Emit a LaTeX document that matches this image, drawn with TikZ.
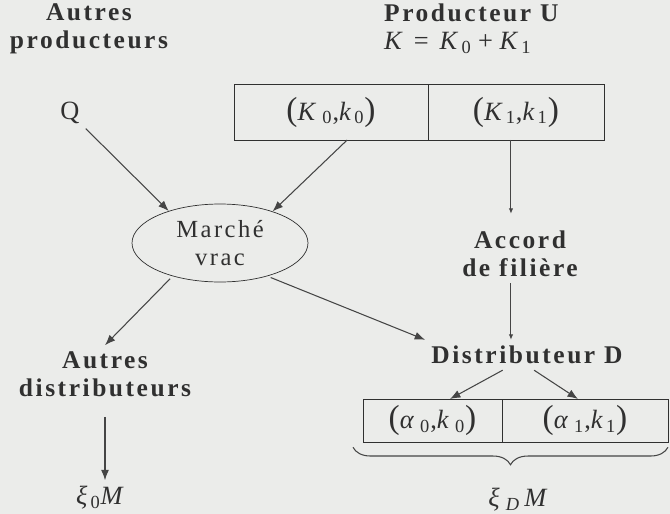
\documentclass[tikz,border=0pt]{standalone}
\usepackage{fontspec}
\setmainfont{Liberation Serif}
\newfontfamily\spacedfont[LetterSpace=10]{Liberation Serif}
\usetikzlibrary{shapes, arrows.meta, positioning, decorations.pathreplacing}
\definecolor{paper}{RGB}{235,236,234}
\definecolor{ink}{RGB}{48,48,48}
\newcommand{\bp}[1]{{\fontsize{19}{19}\selectfont #1}}
\newcommand{\vr}[2]{\textit{#1}\textsubscript{\,#2}}

\begin{document}
\begin{tikzpicture}[x=0.02cm, y=-0.02cm, >={Latex[length=2.1mm,width=1.6mm]},
    every node/.style={text=ink, font=\fontsize{15}{16}\selectfont},
    title/.style={font=\fontsize{14.5}{16}\selectfont\spacedfont\bfseries, align=center},
    cell/.style={draw=ink, rectangle, inner sep=0pt, outer sep=0pt, minimum height=1.12cm},
    lowcell/.style={draw=ink, rectangle, inner sep=0pt, outer sep=0pt, minimum height=0.86cm},
    market/.style={draw=ink, ellipse, inner sep=0pt, minimum width=3.52cm, minimum height=1.56cm, align=center},
    link/.style={draw=ink!90, line width=0.6pt},
    smallarrow/.style={link, -{Latex[length=1.1mm,width=0.9mm]}}]
    \fill[paper] (0,0) rectangle (670,514);
    \useasboundingbox (0,0) rectangle (670,514);
    % nodes
    \node[title] (autresP) at (89,29) {Autres\\producteurs};
    \node[title, align=left, anchor=west] (prodU) at (378,29) {Producteur U\\\normalfont\fontsize{15}{16}\selectfont \textit{K} \,=\, \vr{K}{0} + \vr{K}{1}};
    \node (q) at (70,113) {Q};
    \node[cell, minimum width=3.88cm] (k0cell) at (331,112) {\bp{(}\vr{K}{\,0},\vr{k}{0}\bp{)}};
    \node[cell, minimum width=3.52cm, right=0pt of k0cell] (k1cell) {\bp{(}\vr{K}{1},\vr{k}{1}\bp{)}};
    \node[market, font=\fontsize{14}{16}\selectfont] (marche) at (220,243) {\spacedfont Marché\\\spacedfont vrac};
    \node[title] (accord) at (520,254) {Accord\\de filière};
    \node[title] (distD) at (527,355) {Distributeur D};
    \node[title] (autresD) at (105,374) {Autres\\distributeurs};
    \node[lowcell, minimum width=2.78cm] (a0cell) at (432.5,420.5) {\bp{(}\vr{α}{\,0},\vr{k}{\,0}\bp{)}};
    \node[lowcell, minimum width=3.32cm, right=0pt of a0cell] (a1cell) {\bp{(}\vr{α}{\,1},\vr{k}{1}\bp{)}};
    \node (xi0) at (100,498) {\vr{ξ}{0}\textit{M}};
    \node (xiD) at (518,500) {\vr{ξ}{\,\textit{D}}\,\textit{M}};
    % connections
    \draw[link, ->] (q) -- (marche.148);
    \draw[link, ->] (k0cell.-60) -- (marche.31);
    \draw[smallarrow] ([xshift=-0.1cm]k1cell.south) -- ([xshift=-0.1cm, yshift=0.22cm]k1cell.south |- accord.north);
    \draw[smallarrow] ([xshift=-0.1cm]k1cell.south |- accord.south) -- ([xshift=-0.1cm]k1cell.south |- distD.north);
    \draw[link, ->, shorten <=2pt] (marche.-145) -- (autresD.north);
    \draw[link, ->, shorten <=2pt] (marche.-35) -- (distD.north west);
    \draw[link, ->] (distD.-148) -- (a0cell.51);
    \draw[link, ->] (distD.-65) -- (a1cell.108);
    \draw[link, ->, shorten <=0.28cm] (autresD.south) -- (autresD.south |- xi0.north);
    % accolade
    \draw[link, decorate, decoration={brace, mirror, amplitude=0.35cm}]
        ([xshift=-0.2cm, yshift=-3pt]a0cell.south west) -- ([yshift=-3pt]a1cell.south east);
\end{tikzpicture}
\end{document}
